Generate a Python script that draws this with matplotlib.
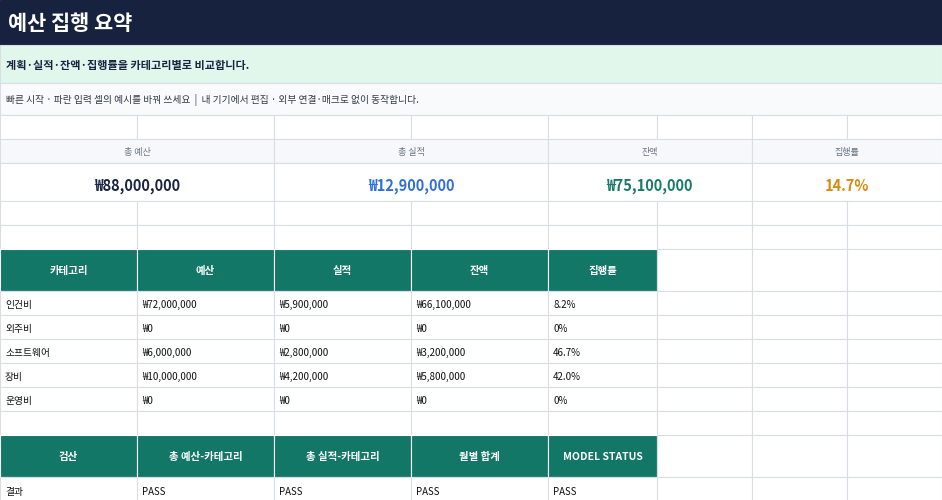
import matplotlib
matplotlib.use("Agg")
import matplotlib.pyplot as plt
from matplotlib.patches import Rectangle

plt.rcParams['font.family'] = ['Noto Sans CJK KR', 'DejaVu Sans']

title = "예산 집행 요약"
subtitle = "계획·실적·잔액·집행률을 카테고리별로 비교합니다."
quick = "빠른 시작 · 파란 입력 셀의 예시를 바꿔 쓰세요  |  내 기기에서 편집 · 외부 연결·매크로 없이 동작합니다."
kpi_labels = ["총 예산", "총 실적", "잔액", "집행률"]
kpi_values = ["₩88,000,000", "₩12,900,000", "₩75,100,000", "14.7%"]
kpi_colors = ["#1a2340", "#2f6fd6", "#177a68", "#d98a0e"]
headers = ["카테고리", "예산", "실적", "잔액", "집행률"]
categories = ["인건비", "외주비", "소프트웨어", "장비", "운영비"]
budget = ["₩72,000,000", "₩0", "₩6,000,000", "₩10,000,000", "₩0"]
actual = ["₩5,900,000", "₩0", "₩2,800,000", "₩4,200,000", "₩0"]
remain = ["₩66,100,000", "₩0", "₩3,200,000", "₩5,800,000", "₩0"]
rate = ["8.2%", "0%", "46.7%", "42.0%", "0%"]
check_headers = ["검산", "총 예산-카테고리", "총 실적-카테고리", "월별 합계", "MODEL STATUS"]
check_results = ["결과", "PASS", "PASS", "PASS", "PASS"]

W, H = 942, 500
fig = plt.figure(figsize=(W/100, H/100), dpi=100)
ax = fig.add_axes([0, 0, 1, 1])
ax.set_xlim(0, W); ax.set_ylim(H, 0); ax.axis('off')

cols = [0, 137, 274, 411, 548, 657, 752, 847, 942]
grid = "#d8dde6"

def rect(x0, y0, x1, y1, fc, ec=grid, lw=0.8):
    ax.add_patch(Rectangle((x0, y0), x1-x0, y1-y0, facecolor=fc, edgecolor=ec, linewidth=lw))

def gridrow(y0, y1, fc="white", upto=8):
    for i in range(upto):
        rect(cols[i], y0, cols[i+1], y1, fc)

# title
rect(0, 0, W, 45, "#17223f", ec="#17223f")
ax.text(8, 23, title, color="white", fontsize=15, fontweight="bold", va="center")
rect(0, 45, W, 83, "#e2f7ec", ec=grid)
ax.text(6, 65, subtitle, color="#1a2340", fontsize=8, fontweight="bold", va="center")
rect(0, 83, W, 115, "#f8fafc", ec=grid)
ax.text(6, 100, quick, color="#333a45", fontsize=7, va="center")

# empty row
gridrow(115, 139)
# KPI
kb = [0, 274, 548, 752, 942]
for i in range(4):
    rect(kb[i], 139, kb[i+1], 163, "#f6f8fb")
    rect(kb[i], 163, kb[i+1], 201, "white")
    cx = (kb[i] + kb[i+1]) / 2
    ax.text(cx, 152, kpi_labels[i], ha="center", va="center", fontsize=6.5, color="#6b7280")
    ax.text(cx, 186, kpi_values[i], ha="center", va="center", fontsize=10.5,
            fontweight="bold", color=kpi_colors[i])
gridrow(201, 225)
gridrow(225, 249)

teal = "#137768"
# table header
for i in range(8):
    if i < 5:
        rect(cols[i], 249, cols[i+1], 291, teal, ec="white")
        ax.text((cols[i]+cols[i+1])/2, 271, headers[i], ha="center", va="center",
                fontsize=7.5, color="white", fontweight="bold")
    else:
        rect(cols[i], 249, cols[i+1], 291, "white")

rows = [categories, budget, actual, remain, rate]
y = 291
for r in range(len(categories)):
    gridrow(y, y+24)
    for c in range(5):
        ax.text(cols[c]+5, y+14, rows[c][r], va="center", fontsize=7, color="#111111")
    y += 24
gridrow(411, 435)
for i in range(8):
    if i < 5:
        rect(cols[i], 435, cols[i+1], 477, teal, ec="white")
        ax.text((cols[i]+cols[i+1])/2, 457, check_headers[i], ha="center", va="center",
                fontsize=7.5, color="white", fontweight="bold")
    else:
        rect(cols[i], 435, cols[i+1], 477, "white")
gridrow(477, 501)
for c in range(5):
    ax.text(cols[c]+5, 492, check_results[c], va="center", fontsize=7, color="#111111")

fig.savefig("out.png", dpi=100)
